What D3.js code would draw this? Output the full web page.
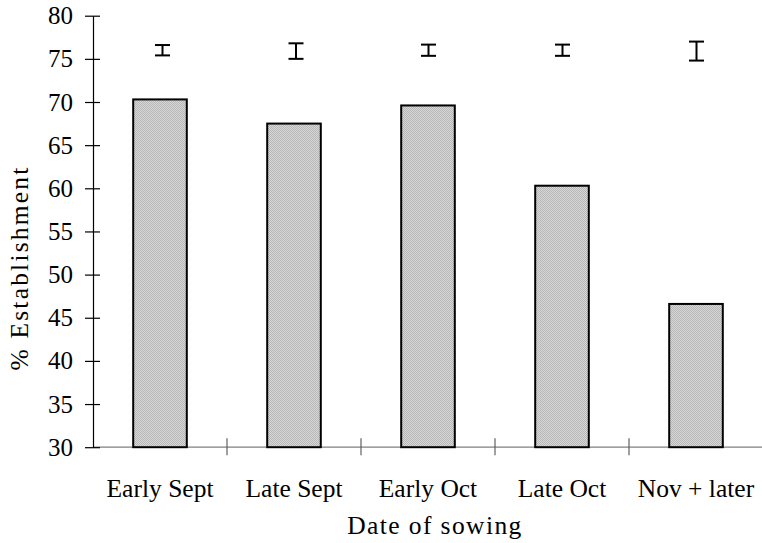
<!DOCTYPE html>
<html>
<head>
<meta charset="utf-8">
<script src="https://cdn.jsdelivr.net/npm/d3@7"></script>
<style>
  html, body { margin: 0; padding: 0; background: #fff; }
  svg { display: block; font-family: "Liberation Serif", "Times New Roman", serif; }
</style>
</head>
<body>
<svg id="chart" width="762" height="543"></svg>
<script>
// Sowing-date groups and mean establishment (%)
const categories = ["Early Sept", "Late Sept", "Early Oct", "Late Oct", "Nov + later"];
const establishment = [70.3, 67.5, 69.6, 60.3, 46.6];
// Standard-error bars drawn above each group
const errCentre = [76, 75.9, 76, 76, 75.9];
const errHalf = [0.6, 0.9, 0.65, 0.65, 1.1];
const yTicks = [30, 35, 40, 45, 50, 55, 60, 65, 70, 75, 80];

const svg = d3.select("#chart");

const x = d3.scaleBand().domain(categories).range([93, 763]).paddingInner(0.6).paddingOuter(0.3);
const xBoundary = d3.scaleLinear().domain([0, categories.length]).range([93, 763]);
const y = d3.scaleLinear().domain([30, 80]).range([447.2, 15.7]);

// Fine grey checker fill for the bars
const defs = svg.append("defs");
const pat = defs.append("pattern").attr("id", "dots")
  .attr("width", 2).attr("height", 2).attr("patternUnits", "userSpaceOnUse");
pat.append("rect").attr("width", 2).attr("height", 2).attr("fill", "#d8d8d8");
pat.append("rect").attr("width", 1).attr("height", 1).attr("fill", "#b6b6b6");
pat.append("rect").attr("x", 1).attr("y", 1).attr("width", 1).attr("height", 1).attr("fill", "#b6b6b6");

// x axis line with group separators
const xAxisG = svg.append("g");
xAxisG.append("line")
  .attr("x1", 93).attr("x2", 762).attr("y1", y(30)).attr("y2", y(30))
  .attr("stroke", "#808080").attr("stroke-width", 1.2);
xAxisG.selectAll("line.sep").data(d3.range(1, categories.length))
  .join("line").attr("class", "sep")
  .attr("x1", d => xBoundary(d)).attr("x2", d => xBoundary(d))
  .attr("y1", y(30) - 9).attr("y2", y(30) + 8)
  .attr("stroke", "#606060").attr("stroke-width", 1.2);

// Bars
svg.append("g").selectAll("rect").data(categories)
  .join("rect")
  .attr("x", d => x(d))
  .attr("width", x.bandwidth())
  .attr("y", (d, i) => y(establishment[i]))
  .attr("height", (d, i) => y(30) - y(establishment[i]))
  .attr("fill", "url(#dots)")
  .attr("stroke", "#000").attr("stroke-width", 2);

// y axis
const yAxis = d3.axisLeft(y).tickValues(yTicks).tickSize(8).tickSizeOuter(0).tickPadding(4);
const yG = svg.append("g").attr("transform", "translate(93,0)").call(yAxis);
yG.select(".domain").attr("stroke", "#000").attr("stroke-width", 1.2);
yG.selectAll(".tick line").attr("x2", 7).attr("x1", -8).attr("stroke", "#000").attr("stroke-width", 1.2);
yG.selectAll(".tick text").attr("x", -20)
  .attr("font-size", 25).attr("fill", "#000")
  .attr("font-family", "Liberation Serif, Times New Roman, serif");

// Error bars
const eb = svg.append("g").attr("stroke", "#000").attr("stroke-width", 2);
categories.forEach((c, i) => {
  const cx = x(c) + x.bandwidth() / 2 + (i === 0 ? 2.5 : (i === 1 ? 2 : 0.5));
  const top = y(errCentre[i] + errHalf[i]);
  const bot = y(errCentre[i] - errHalf[i]);
  eb.append("line").attr("x1", cx).attr("x2", cx).attr("y1", top).attr("y2", bot);
  eb.append("line").attr("x1", cx - 7.5).attr("x2", cx + 7.5).attr("y1", top).attr("y2", top);
  eb.append("line").attr("x1", cx - 7.5).attr("x2", cx + 7.5).attr("y1", bot).attr("y2", bot);
});

// Category labels
svg.append("g").selectAll("text").data(categories)
  .join("text")
  .attr("x", d => x(d) + x.bandwidth() / 2)
  .attr("y", 497)
  .attr("text-anchor", "middle")
  .attr("font-size", 25.5)
  .text(d => d);

// Axis titles
svg.append("text")
  .attr("x", 435).attr("y", 534)
  .attr("text-anchor", "middle").attr("font-size", 25.5)
  .attr("letter-spacing", 1.4)
  .text("Date of sowing");

svg.append("text")
  .attr("transform", "translate(28,268) rotate(-90)")
  .attr("text-anchor", "middle").attr("font-size", 25.5)
  .attr("letter-spacing", 2.2)
  .text("% Establishment");
</script>
</body>
</html>
